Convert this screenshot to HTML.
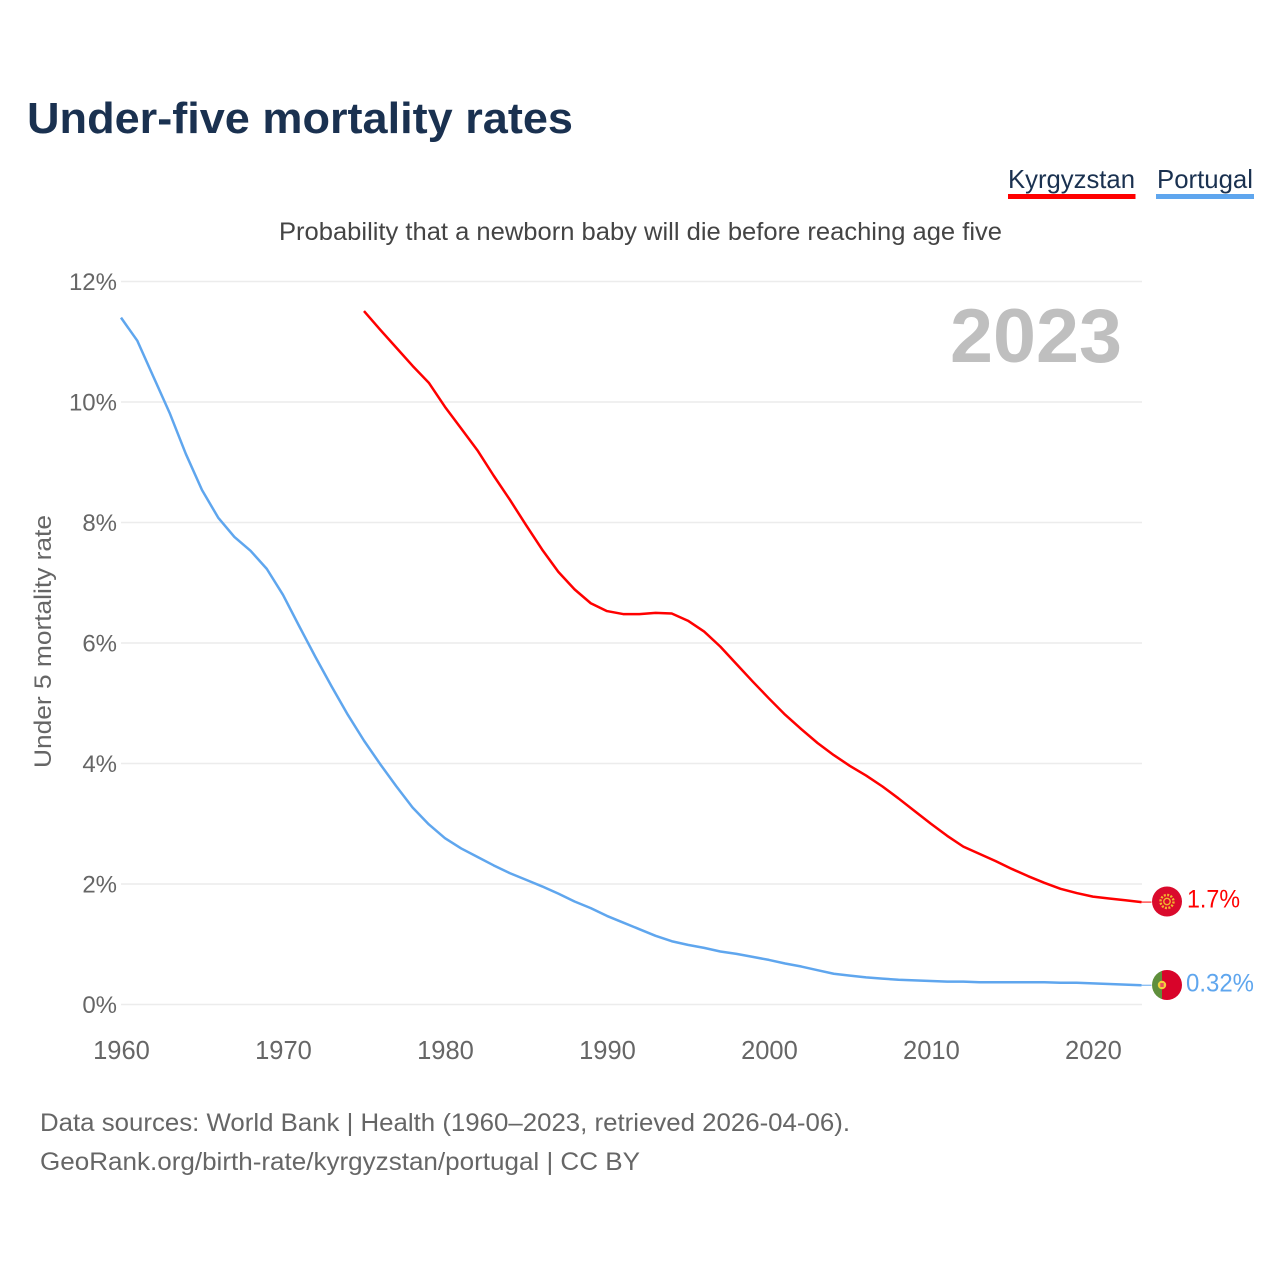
<!DOCTYPE html>
<html lang="en">
<head>
<meta charset="utf-8">
<title>Under-five mortality rates</title>
<style>
html,body{margin:0;padding:0;background:#fff;width:1280px;height:1280px;overflow:hidden}
svg{display:block}
text{font-family:"Liberation Sans",sans-serif}
</style>
</head>
<body>
<svg id="chart" xmlns="http://www.w3.org/2000/svg" width="1280" height="1280" viewBox="0 0 1280 1280">
  <defs>
    <clipPath id="clip-kg"><circle cx="1167" cy="901.5" r="15"/></clipPath>
    <clipPath id="clip-pt"><circle cx="1167" cy="985" r="15"/></clipPath>
  </defs>
  <rect width="1280" height="1280" fill="#fff"/>
  <text x="27" y="133" font-size="44" font-weight="700" fill="#1a3150" textLength="546" lengthAdjust="spacingAndGlyphs">Under-five mortality rates</text>
  <g>
    <text x="1008" y="188" font-size="26" fill="#1a3150" textLength="127" lengthAdjust="spacingAndGlyphs">Kyrgyzstan</text>
    <rect x="1008" y="194" width="127.500" height="5" fill="#ff0000"/>
  </g>
  <g>
    <text x="1157" y="188" font-size="26" fill="#1a3150" textLength="96" lengthAdjust="spacingAndGlyphs">Portugal</text>
    <rect x="1156" y="194" width="98" height="5" fill="#5fa6ee"/>
  </g>
  <text x="279" y="240" font-size="25" fill="#444" textLength="723" lengthAdjust="spacingAndGlyphs">Probability that a newborn baby will die before reaching age five</text>
  <g id="grid"></g>
  <g id="yticks"></g>
  <g id="xticks"></g>
  <text transform="translate(51 768) rotate(-90)" font-size="24.500" fill="#666" textLength="253" lengthAdjust="spacingAndGlyphs">Under 5 mortality rate</text>
  <text x="950" y="362" font-size="76" font-weight="700" fill="#bfbfbf" textLength="172" lengthAdjust="spacingAndGlyphs">2023</text>
  <g id="series"></g>

  <g clip-path="url(#clip-kg)">
    <rect x="1152" y="886" width="30" height="31" fill="#da0a2c"/>
    <circle cx="1167" cy="901.5" r="6.500" fill="none" stroke="#f2b52e" stroke-width="2.400" stroke-dasharray="2 1.400"/>
    <circle cx="1167" cy="901.5" r="3.200" fill="none" stroke="#f2b52e" stroke-width="1.400"/>
  </g>
  <g clip-path="url(#clip-pt)">
    <rect x="1152" y="970" width="10" height="30" fill="#5f8f3c"/>
    <rect x="1162" y="970" width="20" height="30" fill="#d8042a"/>
    <circle cx="1162" cy="985" r="4.200" fill="#f2d13c"/>
    <rect x="1160.300" y="983" width="3.400" height="4" fill="#e8505f"/>
  </g>
  <text x="1187" y="907.500" font-size="25" fill="#ff0000" textLength="53" lengthAdjust="spacingAndGlyphs">1.7%</text>
  <text x="1186" y="991.500" font-size="25" fill="#5fa6ee" textLength="68" lengthAdjust="spacingAndGlyphs">0.32%</text>

  <text x="40" y="1131" font-size="25" fill="#666" textLength="810" lengthAdjust="spacingAndGlyphs">Data sources: World Bank | Health (1960–2023, retrieved 2026-04-06).</text>
  <text x="40" y="1170" font-size="25" fill="#666" textLength="600" lengthAdjust="spacingAndGlyphs">GeoRank.org/birth-rate/kyrgyzstan/portugal | CC BY</text>
</svg>
<script>
const yTicks = [0, 2, 4, 6, 8, 10, 12];
const yTickLabels = ['0%', '2%', '4%', '6%', '8%', '10%', '12%'];
const xTicks = [1960, 1970, 1980, 1990, 2000, 2010, 2020];
const xTickLabels = ['1960', '1970', '1980', '1990', '2000', '2010', '2020'];
const firstYearPortugal = 1960;
const firstYearKyrgyzstan = 1975;
const portugalValues = [11.4, 11.02, 10.42, 9.82, 9.14, 8.54, 8.08, 7.76, 7.53, 7.23,
  6.8, 6.28, 5.77, 5.28, 4.81, 4.38, 3.99, 3.62, 3.27, 2.99,
  2.76, 2.59, 2.45, 2.31, 2.18, 2.07, 1.96, 1.84, 1.71, 1.6,
  1.47, 1.36, 1.25, 1.14, 1.05, 0.99, 0.94, 0.88, 0.84, 0.79,
  0.74, 0.68, 0.63, 0.57, 0.51, 0.48, 0.45, 0.43, 0.41, 0.4,
  0.39, 0.38, 0.38, 0.37, 0.37, 0.37, 0.37, 0.37, 0.36, 0.36,
  0.35, 0.34, 0.33, 0.32];
const kyrgyzstanValues = [11.51, 11.2, 10.9, 10.6, 10.32, 9.92, 9.56, 9.2, 8.78, 8.38,
  7.96, 7.55, 7.18, 6.89, 6.66, 6.53, 6.48, 6.48, 6.5, 6.49,
  6.37, 6.19, 5.94, 5.65, 5.36, 5.08, 4.81, 4.57, 4.34, 4.14,
  3.96, 3.8, 3.62, 3.42, 3.21, 3.0, 2.8, 2.62, 2.5, 2.38,
  2.25, 2.13, 2.02, 1.92, 1.85, 1.79, 1.76, 1.73, 1.7];

const NS = 'http://www.w3.org/2000/svg';
function xScale(year) { return 121 + (year - 1960) * (1020.5 / 63); }
function yScale(value) { return 1004.5 - value * (723 / 12); }

const grid = document.getElementById('grid');
const yGroup = document.getElementById('yticks');
const xGroup = document.getElementById('xticks');
const seriesGroup = document.getElementById('series');

yTicks.forEach(function (t, i) {
  const line = document.createElementNS(NS, 'line');
  
  
  line.setAttribute('x1', 121);
  line.setAttribute('x2', 1142);
  line.setAttribute('y1', yScale(t));
  line.setAttribute('y2', yScale(t));
  line.setAttribute('stroke', '#ececec');
  line.setAttribute('stroke-width', '1.5');
  grid.appendChild(line);
  const label = document.createElementNS(NS, 'text');
  
  
  label.setAttribute('x', 117);
  label.setAttribute('y', yScale(t) + 8.5);
  label.setAttribute('text-anchor', 'end');
  label.setAttribute('font-size', '24');
  label.setAttribute('fill', '#666');
  label.textContent = yTickLabels[i];
  yGroup.appendChild(label);
});

xTicks.forEach(function (t, i) {
  const label = document.createElementNS(NS, 'text');
  
  
  label.setAttribute('x', xScale(t) + 0.5);
  label.setAttribute('y', 1059);
  label.setAttribute('text-anchor', 'middle');
  label.setAttribute('font-size', '25.500');
  label.setAttribute('fill', '#666');
  label.textContent = xTickLabels[i];
  xGroup.appendChild(label);
});

function drawSeries(values, firstYear, color, name) {
  const pts = values.map(function (v, i) { return xScale(firstYear + i).toFixed(2) + ',' + yScale(v).toFixed(2); });
  const path = document.createElementNS(NS, 'polyline');
  
  
  path.setAttribute('points', pts.join(' '));
  path.setAttribute('fill', 'none');
  path.setAttribute('stroke', color);
  path.setAttribute('stroke-width', '2.5');
  path.setAttribute('stroke-linejoin', 'round');
  seriesGroup.appendChild(path);
  const last = values[values.length - 1];
  const connector = document.createElementNS(NS, 'line');
  
  
  connector.setAttribute('x1', xScale(2023));
  connector.setAttribute('x2', xScale(2023) + 10);
  connector.setAttribute('y1', yScale(last));
  connector.setAttribute('y2', yScale(last));
  connector.setAttribute('stroke', color);
  connector.setAttribute('stroke-width', '1');
  seriesGroup.appendChild(connector);
}
drawSeries(portugalValues, firstYearPortugal, '#5fa6ee', 'line-portugal');
drawSeries(kyrgyzstanValues, firstYearKyrgyzstan, '#ff0000', 'line-kyrgyzstan');
</script>
</body>
</html>
